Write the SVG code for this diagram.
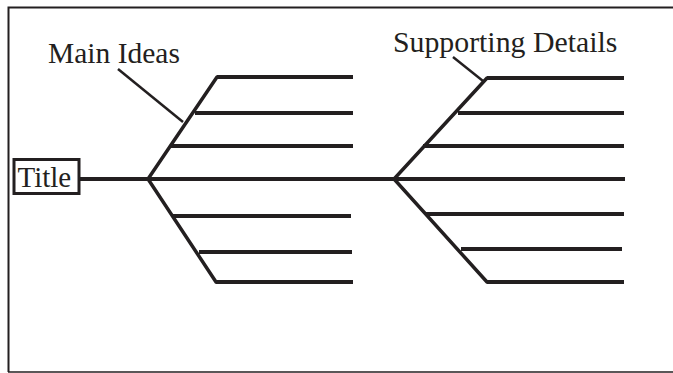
<svg xmlns="http://www.w3.org/2000/svg" width="673" height="373" viewBox="0 0 673 373">
<style>
.t{font-family:'Liberation Serif',Tinos,'Times New Roman',Times,serif;fill:#231f20}
.h{stroke:#231f20;stroke-width:4;fill:none}
.b{stroke:#231f20;stroke-width:3.5;fill:none;stroke-linecap:round}
.p{stroke:#231f20;stroke-width:2.5;fill:none}
</style>
<rect width="673" height="373" fill="#fff"/>
<g id="frame">
<path d="M8.5,372 V7.5 H673" stroke="#231f20" stroke-width="2" fill="none"/>
<path d="M8,372 H673" stroke="#231f20" stroke-width="1.5" fill="none"/>
</g>
<g id="connectors">
<line class="h" x1="80" y1="179" x2="625" y2="179"/>
<path class="b" d="M217,77 L148,179 L216,282"/>
<path class="b" d="M487,78 L394,179 L487,282"/>
<line class="p" x1="118" y1="69" x2="183" y2="122"/>
<line class="p" x1="453" y1="57" x2="483" y2="81"/>
<line class="h" x1="217" y1="77" x2="353" y2="77"/>
<line class="h" x1="195" y1="113" x2="353" y2="113"/>
<line class="h" x1="170" y1="146" x2="353" y2="146"/>
<line class="h" x1="173" y1="216" x2="351" y2="216"/>
<line class="h" x1="199" y1="252" x2="352" y2="252"/>
<line class="h" x1="216" y1="282" x2="353" y2="282"/>
<line class="h" x1="487" y1="78" x2="624" y2="78"/>
<line class="h" x1="458" y1="113" x2="624" y2="113"/>
<line class="h" x1="423" y1="146" x2="624" y2="146"/>
<line class="h" x1="425" y1="214" x2="624" y2="214"/>
<line class="h" x1="461" y1="249" x2="622" y2="249"/>
<line class="h" x1="487" y1="282" x2="624" y2="282"/>
</g>
<g id="title">
<rect x="14" y="159.5" width="65" height="34" fill="#fff" stroke="#231f20" stroke-width="3"/>
<text class="t" x="17.5" y="187" font-size="29">Title</text>
</g>
<g id="main-ideas">
<text class="t" x="48" y="63" font-size="29.5">Main Ideas</text>
</g>
<g id="supporting-details">
<text class="t" x="393" y="52" font-size="29.8">Supporting Details</text>
</g>
</svg>
